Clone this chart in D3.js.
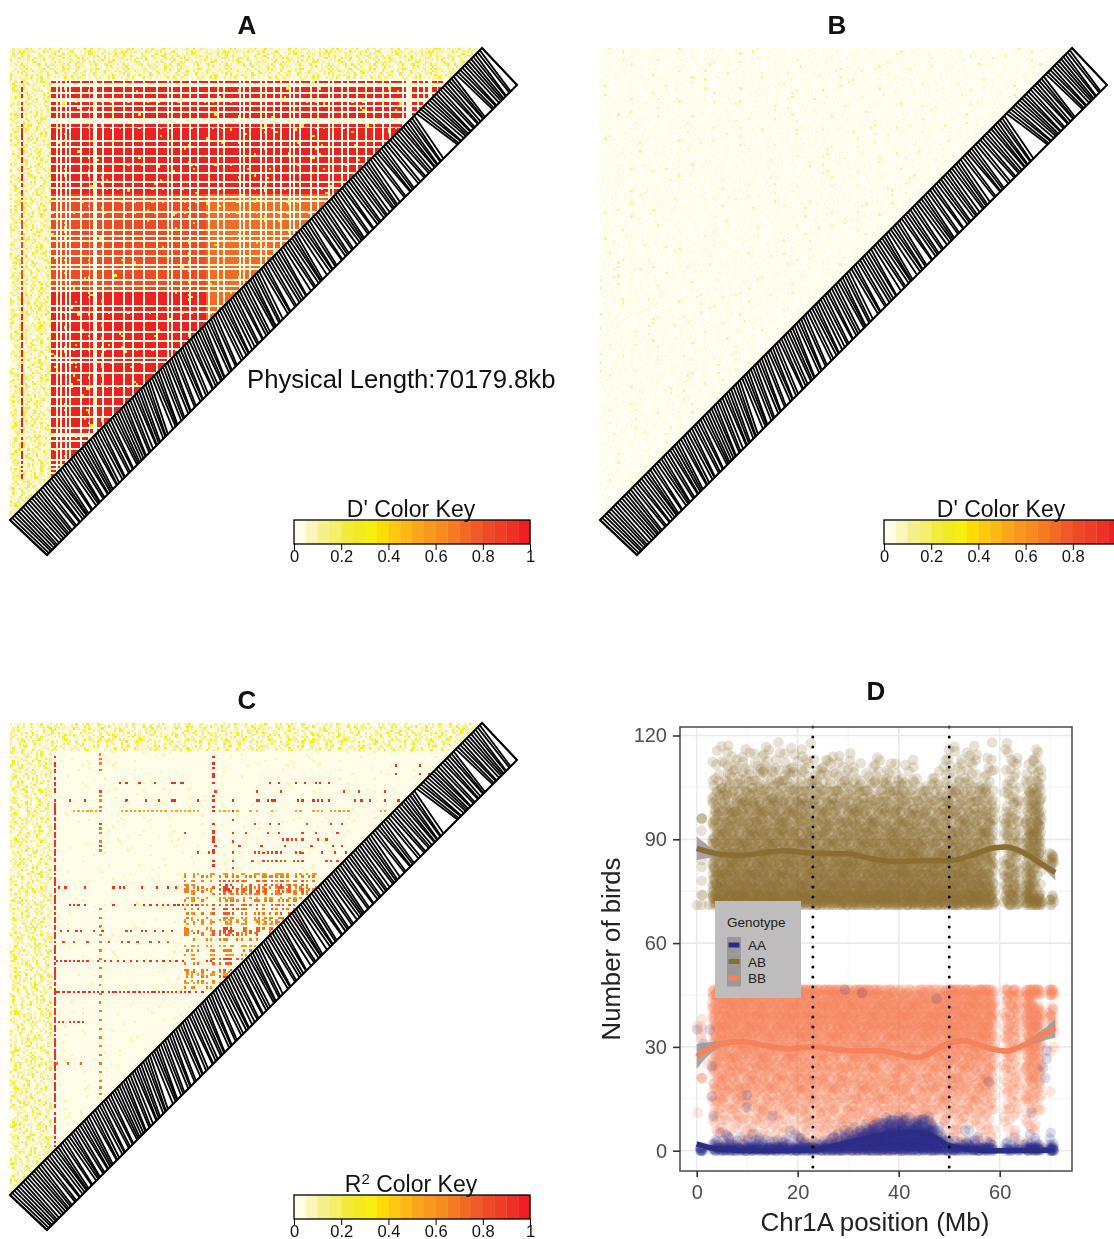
<!DOCTYPE html>
<html>
<head>
<meta charset="utf-8">
<script src="https://cdn.jsdelivr.net/npm/d3@7"></script>
<style>
  html, body { margin: 0; background: #fff; overflow: hidden; }
  svg { display: block; filter: blur(0.4px); font-family: "Liberation Sans", Arial, sans-serif; }
</style>
</head>
<body>
<div id="chart"></div>
<script>
// ---------- LD triangles: 217 markers ----------
var nSnp = 217;
var keyColors = ["#FFFDE8","#FBF5BC","#F6F08C","#F4EE6A","#F2EB3C","#F3EA22","#F8EE0F","#FFDD00","#FFC90E","#FDB913",
                 "#FAA61A","#F8981D","#F68B1F","#F47B20","#F26B25","#F05A28","#EF4A27","#EE3E26","#EE3124","#ED2024"];
var keyTicks = [0, 0.2, 0.4, 0.6, 0.8, 1];

// gap to the next marker in 0.1 Mb, base 36 (m = 2.2 Mb hole around 60 Mb)
var snpGaps = "3323323433 3232525143 3125163215 2513226135 3162416223 3315245132 5313842163 2631627315 3714352317 3162735315 4426153362 1524831725 3341752531 2753142815 3252643226 2616325324 5232472713 2736252341 31414m2314 3223142513 412c231432 23152a";

// panel A: marker in the high D' block or not, read off columns and rows
var highSnps = "0000010000 0000000001 1010101011 1101110100 1101111011 1101110111 1011111011 1101011101 1101110111 1011101101 1111101011 0111101011 1011011101 0110111101 1011110101 1101101110 1110111011 1011011111 0100011011 0100110110 0100000000 0000000";
// strength of D' per row and per column, 9 = 1.0 (blocks of marker index)
var rowStrengthFrom = [0, 105, 128, 150];
var rowStrengthVal  = [9, 8, 8, 9];
var colStrengthFrom = [0, 90];
var colStrengthVal  = [9, 7];

// sample of the speckle in the low LD cells, digit = strength
var speckle = [
"31052704126093140728135002641083172049316025807",
"04271360952148037126040583192067341502716304928",
"20639141078250316094271825013607492103850261374",
"17024853106372094518230647100925361740283159206",
"52310694028175360241709835016237408162905341027",
"08146230571902483651027394106852317049260135782",
"36209715084326017495130628047193520861324072516",
"14072583619024735108246301958274061352907143068",
"60351928140763205174893026415071382906142538107",
"27140365092816473502916047382510694213075826341",
"41896027351240687130524091763208154937026180352",
"03257148206935174028316570249613085274016392741",
"75102639418052367109248351076420931568120743905"];
var speckleValue = [0, 0, 0, 0.06, 0.06, 0.06, 0.12, 0.12, 0.2, 0.32];

// panel C: single rows of high r2: marker, value, columns
var r2Rows = [
[197,0.9,[177,188]],
[193,0.9,[93,177,188,192]],
[189,0.9,[50,53,59,66,74,75,78,79,93,119,123,131,135,140,142,146]],
[185,0.85,[41,94,113,124,153,160,172]],
[181,0.9,[27,34,41,53,62,68,74,75,86,93,102,113,114,118,120,121,132,134,139,141,143,146,158,161,165,172,178]],
[176,0.5,[29,31,33,35,37,39,41,51,53,55,57,59,61,63,65,67,69,71,74,76,78,80,82,84,86,93,96,98,100,102,104,110,113,120,131,133,139,141,143,147,149,151,153,155,170,172]],
[170,0.85,[41,93,112,119,123,136,147,152]],
[166,0.85,[41,80,93,102,108,118,123,134,140,150]],
[163,0.85,[93,125,127,129,131,134,141,145]],
[160,0.85,[41,94,105,115,126,138,148,152]],
[157,0.85,[86,91,93,102,112,114,116,118,120,122,124,131,133,134,143,149,154]],
[153,0.8,[93,102,111,116,118,120,122,124,126,130,132,134,145,147,150]],
[141,0.9,[22,25,34,47,50,52,60,67,72,76]],
[133,0.9,[27,29,31,34,47,57,61,64,67,70,72,75,77,79,83,85]],
[107,0.9,[21,23,25,27,29,31,33,35,40,43,46,49,52,55,58,61,64,67,70,73,76,79,90,92]],
[93,0.9,[21,22,24,26,27,29,31,33,34,36,38,40,42,45,47,48,50,52,54,56,57,59,61,63,65,66,68,70,72,74,76,78,80,82,85,88]],
[79,0.85,[22,24,27,29,31,33]],
[121,0.85,[23,26,30,32,38,42,53,55,60,62,66,70,74]],
[116,0.8,[24,29,35,45,51,54,58,64,68,72]],
[60,0.7,[21,26,32,41]]];
// single columns of high r2: marker, value, rows
var r2ColIdx = [41, 93, 102];
var r2ColVal = [0.65, 0.9, 0.85];
var r2ColRows = [
[202,200,198,195,183,181,178,176,168,166,162,158,131,127,123,119,116,112,108,104,100,96,92,88,84,80,76,72,68,64,60,56,52,49,46],
[201,198,196,192,183,178,176,170,167,164,162,158,153,151],
[176,172,166,162,157,153,150]];
// the dense block: markers and their level, 9 = 1.0
var blockRows = [147,146,144,142,141,140,139,138,136,135,133,131,129,127,126,125,124,122,121,120,119,117,114,112,110,108,106,103,102,101,100,98,97,95];
var blockRowLvl = [5,6,7,8,8,8,7,6,5,6,7,8,7,6,5,6,5,8,8,7,7,6,5,6,5,8,7,7,6,5,8,6,5,7];
var blockCols = [80,81,83,84,86,88,90,92,93,96,98,99,100,101,102,104,106,107,108,110,112,113,114,116,117,119,120,122,123,124,125,127,128,130,131,133,134,136,137,139,140];
var blockColLvl = [6,6,5,6,7,6,6,5,7,7,8,9,9,9,8,7,6,7,6,7,6,7,7,6,7,6,7,6,7,8,7,6,7,6,6,6,7,6,6,6,6];

// ---------- panel D: dots per 3 count band and position bin, base 36 ----------
var binLo = [0.6,3,5,7,9,11,13,15,17,19,21,23,25,27,29,31,33,35,37,39,41,43,45,47,49,51,53,55,57,60.8,65,66.7,69.8];
var binHi = [1.4,5,7,9,11,13,15,17,19,21,23,25,27,29,31,33,35,37,39,41,43,45,47,49,51,53,55,57,59,64,66.7,68.3,70.8];
var abBands = [116,113,110,107,104,101,98,95,92,89,86,83,80,77,74,71];
var abDots = [
"0 1101011111 0000000000 00011101 2010",
"0 1212222121 1211001001 00012212 3120",
"0 2323332332 2322212212 00122312 3230",
"0 3434343433 3332323332 11232322 4240",
"0 5555656555 5554545554 33454544 5460",
"0 6767777677 6666666666 65666566 6670",
"0 8888a8a888 8888886886 66686666 6680",
"0 88a8a8a8a8 8888888888 88688688 a6a0",
"0 8a8aaaaa8a 8a88aa8a8a 88888888 a8a0",
"0 aaaaaaaaaa aa8aaaaaaa a88a8888 aaa0",
"0 aaacacacaa aaaaaaaacc a8a8aa88 8aa0",
"0 acccccccac cacccaccc c cacaaaaaa 6ac1",
"0 cdcdcccccd ccc dccdddd ccccccc 8ca3",
"0 dddddddcdd dddddddddf dcddddd a da3",
"0 fgffgfffff fgffgfggf gffgfdff dgf5",
"1 kjkjkkjkjk kjkjklkkkk kkkjkjkj ljk8"];
var bbBands = [45,42,39,36,33,30,27,24,21,18,15,12,9,6,3,0];
var bbDots = [
"0 dddcdddddd dddcddca88 888ddddd fddd",
"0 dfdfdddddd ddddddddc dcddddd dddd",
"0 dddddddddd ddddcddddd dddddddd cdc8",
"1 dddddcdddd dcdcdcdddd cddddddd ccc6",
"1 cdcdcdcddc cccccccccc cdcdcddc caa3",
"1 aaaaaaaaaa aaaaaaaaaa aaaaaaaa aaa1",
"0 aaaaaaaaa8 a8a8aaaaaa 8aaaaaa8 8a81",
"0 a8a8aa8a88 8888888888 888a8888 8880",
"0 88886886a8 8686868688 68688668 8880",
"0 8888888888 8888888888 68888688 8660",
"0 8686666868 6666868686 66666666 6651",
"0 6656565656 5656666666 56665655 6530",
"0 5353555355 5555655555 55355353 5310",
"0 3333333335 3555555555 33133133 3310",
"0 1313333133 3355555555 31133133 3110",
"0 1111111113 3353335531 11111111 1110"];
var aaBands = [9,8,7,6,5,4,3,2,1,0];
var aaDots = [
"0 0000000000 0000000222 22000000 0000",
"0 0000000000 0000002342 42000000 0000",
"0 0000000000 0000023454 54000000 0000",
"0 0000000000 0000234666 66100000 0000",
"0 1000000100 0002346777 77200100 0001",
"0 0100100010 0023468888 88300010 0100",
"0 1201210120 0134689999 99410110 1011",
"0 2222222222 2346789aaa aa622212 2211",
"1 4444444444 4568899aaa aa744444 3343",
"8 ffffffffff ffffffffff ffffffff ffff"];
// where a dot sits inside its cell
var dotOffX = [0.12,0.71,0.38,0.93,0.05,0.56,0.27,0.84,0.47,0.66,0.18,0.97,0.33,0.6,0.8,0.42,
               0.23,0.9,0.51,0.02,0.75,0.36,0.63,0.15,0.87,0.44,0.08,0.69,0.29,0.54,0.99,0.2];
var dotOffY = [0,0.62,0.22,0,0.85,0.41,0.7,0.15,0,0.93,0.5,0.3,0,0.77,0.58,0.08,
               0.47,0.03,0.88,0.26,0.66,0,0.36,0.98,0.12,0.55,0.81,0,0.19,0.72,0.33,0.6];
// single dots outside the bins
var abExtraX = [1,1,1,1,1,1,1,1,1,1,0.1,2.4];
var abExtraY = [96,96,96,92.5,88,84,82,78,74,71,71,71];
var bbExtraX = [1,1,1,1,1,1,1,0.2,2.2,0.1];
var bbExtraY = [38,35,32,21,21,21,30,11,25,36];
var aaExtraX = [0.1,2.6,1.3,3,3,3.3,9.9,9.9,15,6.3,8.6,16,69.3,69.3,68.6,69,57.8,66.3,54,47.5,32.7,29.4,0.9,0.9,0.9,70.4,70.6];
var aaExtraY = [35,35,31,24.5,15.6,10,16,12.6,10,4,4,3,29,26.6,24,21,20,11,6,44,45.6,46.5,0,0,0,0,0];

var smoothAbX = [0,4.6,8.6,12.5,17.2,23,29.7,35,38.9,45.5,50,54.1,58.7,61.4,64.7,68,71];
var smoothAbY = [87.4,85.7,85.3,86,86.7,86,85.8,84.3,83.6,83.9,83.8,85.2,87.5,87.8,86.1,83.1,80.4];
var smoothAbSe = [3.4,0.8,0.5,0.5,0.5,0.5,0.5,0.5,0.5,0.5,0.5,0.5,0.6,0.6,0.6,0.8,2.2];
var smoothBbX = [0,4.6,9.2,13.2,17.8,23,29.7,36.3,43.6,50,52.8,58.7,61.4,65.4,71];
var smoothBbY = [27.2,30.8,31.5,30.5,29.5,30,28.9,28.9,27,31,31.8,29.3,28.8,31,35.4];
var smoothBbSe = [3.6,1,0.6,0.5,0.5,0.5,0.6,0.6,0.6,0.6,0.6,0.6,0.7,0.8,2.6];
var smoothAaX = [0,4.6,12.5,23,28.4,35,43,46.9,50,54.1,58.7,71];
var smoothAaY = [1.9,0.4,0,0.2,1.8,4,5.4,4,1.4,0.4,0,0.2];
var smoothAaSe = [1,0.5,0.4,0.4,0.4,0.5,0.6,0.5,0.4,0.4,0.4,0.8];
var xTicks = [0, 20, 40, 60];
var xMinor = [10, 30, 50, 70];
var yTicks = [0, 30, 60, 90, 120];
var yMinor = [15, 45, 75, 105];
var cutoffs = [23, 50];
var genotypes = ["AA", "AB", "BB"];
var genoColors = ["#2B2C86", "#8C6D31", "#F5825A"];

// ---------- helpers ----------
var svg = d3.select("#chart").append("svg").attr("width", 1114).attr("height", 1239);
var clean = s => s.replace(/ /g, "").split("");

var high = clean(highSnps).map(Number);
var gaps = clean(snpGaps).map(c => parseInt(c, 36));
var snpPos = [0].concat(Array.from(d3.cumsum(gaps)));

var keyColor = d3.scaleQuantize().domain([0, 1]).range(keyColors);
var rowStrength = d3.scaleThreshold().domain(rowStrengthFrom.slice(1)).range(rowStrengthVal);
var colStrength = d3.scaleThreshold().domain(colStrengthFrom.slice(1)).range(colStrengthVal);

function speck(i, j, shift) {
    var line = speckle[(j * 5 + shift) % speckle.length];
    return +line[(i + j * 19 + (j >> 3) * 13 + shift) % line.length];
}

function valueA(i, j) {
    var d = speck(i, j, 0);
    if (high[i] && high[j]) {
        if (d == 9 && (i + j) % 5 == 0) return 0.3;
        var s = j < 150 ? Math.min(rowStrength(j), colStrength(i)) : rowStrength(j);
        return s == 9 ? 1 : s / 9.6;
    }
    if (i < 19 || j > 202) return speckleValue[d];
    if (d == 9) return 0.12;
    return d == 8 ? 0.06 : 0;
}

// r2 lookups
var r2Cell = new Map();
r2Rows.forEach(r => r[2].forEach(c => r2Cell.set(c + "_" + r[0], r[1])));
r2ColIdx.forEach((c, k) => r2ColRows[k].forEach(j => r2Cell.set(c + "_" + j, r2ColVal[k])));
var blockRowMap = new Map(blockRows.map((d, k) => [d, blockRowLvl[k]]));
var blockColMap = new Map(blockCols.map((d, k) => [d, blockColLvl[k]]));

function valueC(i, j) {
    var d = speck(i, j, 5);
    if (i == 20 && j <= 203 && high[j]) return 0.92;
    var hit = r2Cell.get(i + "_" + j);
    if (hit) return hit;
    if (blockRowMap.has(j) && blockColMap.has(i) && d > 2) {
        return Math.min(blockRowMap.get(j), blockColMap.get(i)) / 9;
    }
    if (i < 19 || j > 203) {
        if (d == 9 || (d == 8 && (i + j) % 2 == 0)) return 0.3;
        return d >= 6 ? 0.1 : (d == 5 ? 0.06 : 0);
    }
    return d == 9 && (i + j) % 2 == 0 ? 0.07 : 0;
}

function paleB(i, j) {
    var d = speck(i, j, 9);
    if (d == 9 && (i + 2 * j) % 4 == 0) return "#FBF2A0";
    return d >= 6 ? "#FFFCE3" : null;
}

function drawTriangle(dx, dy, baseColor, cellColor) {
    var g = svg.append("g").attr("transform", "translate(" + dx + "," + dy + ")");
    var x = d3.scaleBand().domain(d3.range(nSnp)).range([10, 482]);
    var y = d3.scaleBand().domain(d3.range(nSnp).reverse()).range([48, 520]);

    g.append("path").attr("d", "M10,48L482,48L10,520Z").attr("fill", baseColor);

    var cells = [];
    for (var i = 0; i < nSnp; i++) {
        for (var j = i + 1; j < nSnp; j++) {
            var c = cellColor(i, j);
            if (c) cells.push({ i: i, j: j, c: c });
        }
    }
    g.append("g").attr("shape-rendering", "crispEdges")
        .selectAll("rect").data(cells).enter().append("rect")
        .attr("x", d => x(d.i))
        .attr("y", d => y(d.j))
        .attr("width", x.bandwidth() + 0.2)
        .attr("height", y.bandwidth() + 0.2)
        .attr("fill", d => d.c);

    // marker segments from the triangle edge to the position line
    var edgeX = d3.scaleLinear().domain([0, nSnp - 1]).range([10, 482]);
    var edgeY = d3.scaleLinear().domain([0, nSnp - 1]).range([520, 48]);
    var posX = d3.scaleLinear().domain([0, d3.max(snpPos)]).range([47, 517]);
    var posY = d3.scaleLinear().domain([0, d3.max(snpPos)]).range([555, 85]);

    g.append("g").selectAll("line").data(snpPos).enter().append("line")
        .attr("x1", (d, k) => edgeX(k))
        .attr("y1", (d, k) => edgeY(k))
        .attr("x2", d => posX(d))
        .attr("y2", d => posY(d))
        .attr("stroke", "#000")
        .attr("stroke-width", 1.8);

    g.append("path").attr("d", "M10,520L482,48L517,85L47,555Z")
        .attr("fill", "none").attr("stroke", "#000").attr("stroke-width", 2);
}

function drawKey(dx, dy, title, ticks) {
    var g = svg.append("g").attr("transform", "translate(" + dx + "," + dy + ")");
    var kx = d3.scaleLinear().domain([0, 1]).range([294, 530]);
    g.selectAll("rect.bin").data(keyColors).enter().append("rect").attr("class", "bin")
        .attr("x", (d, k) => kx(k / 20))
        .attr("y", 520)
        .attr("width", kx(0.05) - kx(0) + 0.3)
        .attr("height", 24)
        .attr("fill", d => d);
    g.append("rect").attr("x", 294).attr("y", 520).attr("width", 236).attr("height", 24)
        .attr("fill", "none").attr("stroke", "#000").attr("stroke-width", 1.3);
    var axis = g.append("g").attr("transform", "translate(0,544)")
        .call(d3.axisBottom(kx).tickValues(ticks).tickSize(6).tickFormat(d => d));
    axis.select(".domain").remove();
    axis.selectAll("text").attr("y", 6).attr("dy", "0.71em")
        .style("font-size", "16.5px").style("font-family", "inherit").attr("fill", "#111");
    var t = g.append("text").attr("x", 411).attr("y", 517).attr("text-anchor", "middle")
        .style("font-size", "23px").attr("fill", "#111");
    title(t);
}

function panelTitle(s, x, y) {
    svg.append("text").attr("x", x).attr("y", y).attr("text-anchor", "middle")
        .style("font-size", "26px").style("font-weight", "bold").attr("fill", "#111").text(s);
}

// ---------- A, B, C ----------
drawTriangle(0, 0, keyColors[0], (i, j) => { var v = valueA(i, j); return v >= 0.05 ? keyColor(v) : null; });
drawTriangle(590, 0, "#FFFFF6", paleB);
drawTriangle(0, 675, keyColors[0], (i, j) => { var v = valueC(i, j); return v >= 0.05 ? keyColor(v) : null; });

drawKey(0, 0, t => t.text("D' Color Key"), keyTicks);
// the window cuts this key off before its last label
drawKey(590, 0, t => t.text("D' Color Key"), keyTicks.slice(0, 5));
drawKey(0, 675, t => {
    t.append("tspan").text("R");
    t.append("tspan").attr("dy", -8).style("font-size", "15px").text("2");
    t.append("tspan").attr("dy", 8).text(" Color Key");
}, keyTicks);

panelTitle("A", 247, 34);
panelTitle("B", 837, 34);
panelTitle("C", 247, 709);
panelTitle("D", 876, 700);

svg.append("text").attr("x", 247).attr("y", 388)
    .style("font-size", "25.7px").attr("fill", "#111").text("Physical Length:70179.8kb");

// ---------- D ----------
var x = d3.scaleLinear().domain([(680 - 696.7) / 5.05, (1072 - 696.7) / 5.05]).range([680, 1072]);
var y = d3.scaleLinear().domain([(1150.7 - 1171) / 3.46, (1150.7 - 727) / 3.46]).range([1171, 727]);

var grid = svg.append("g");
grid.selectAll("line.xm").data(xMinor).enter().append("line")
    .attr("x1", d => x(d)).attr("x2", d => x(d)).attr("y1", 727).attr("y2", 1171)
    .attr("stroke", "#F2F2F2").attr("stroke-width", 0.9);
grid.selectAll("line.ym").data(yMinor).enter().append("line")
    .attr("y1", d => y(d)).attr("y2", d => y(d)).attr("x1", 680).attr("x2", 1072)
    .attr("stroke", "#F2F2F2").attr("stroke-width", 0.9);
grid.selectAll("line.xg").data(xTicks).enter().append("line")
    .attr("x1", d => x(d)).attr("x2", d => x(d)).attr("y1", 727).attr("y2", 1171)
    .attr("stroke", "#EBEBEB").attr("stroke-width", 1.7);
grid.selectAll("line.yg").data(yTicks).enter().append("line")
    .attr("y1", d => y(d)).attr("y2", d => y(d)).attr("x1", 680).attr("x2", 1072)
    .attr("stroke", "#EBEBEB").attr("stroke-width", 1.7);

function dotsFrom(table, bands, bandHeight, top, extraX, extraY) {
    var pts = [];
    table.forEach((row, r) => {
        clean(row).forEach((c, b) => {
            var n = parseInt(c, 36);
            for (var k = 0; k < n; k++) {
                var o = (k + b * 11 + r * 7) % dotOffX.length;
                pts.push([binLo[b] + dotOffX[o] * (binHi[b] - binLo[b]),
                          Math.min(top, bands[r] + dotOffY[o] * bandHeight)]);
            }
        });
    });
    extraX.forEach((d, k) => pts.push([d, extraY[k]]));
    return pts;
}

svg.append("clipPath").attr("id", "plotClip").append("rect")
    .attr("x", 680).attr("y", 727).attr("width", 392).attr("height", 444);
var plot = svg.append("g").attr("clip-path", "url(#plotClip)");

function drawDots(pts, color, alpha) {
    plot.append("g").selectAll("circle").data(pts).enter().append("circle")
        .attr("cx", d => x(d[0]))
        .attr("cy", d => y(d[1]))
        .attr("r", 5.3)
        .attr("fill", color)
        .attr("fill-opacity", alpha);
}
drawDots(dotsFrom(abDots, abBands, 3, 118, abExtraX, abExtraY), genoColors[1], 0.2);
drawDots(dotsFrom(bbDots, bbBands, 3, 46.6, bbExtraX, bbExtraY), genoColors[2], 0.2);
drawDots(dotsFrom(aaDots, aaBands, 1, 10.5, aaExtraX, aaExtraY), genoColors[0], 0.16);

function drawSmooth(xs, ys, se, color) {
    var pts = xs.map((d, k) => ({ x: d, y: ys[k], se: se[k] }));
    plot.append("path").datum(pts)
        .attr("d", d3.area().x(d => x(d.x)).y0(d => y(d.y - d.se)).y1(d => y(d.y + d.se)).curve(d3.curveMonotoneX))
        .attr("fill", "#999").attr("fill-opacity", 0.85);
    plot.append("path").datum(pts)
        .attr("d", d3.line().x(d => x(d.x)).y(d => y(d.y)).curve(d3.curveMonotoneX))
        .attr("fill", "none").attr("stroke", color).attr("stroke-width", 5.5);
}
drawSmooth(smoothAbX, smoothAbY, smoothAbSe, genoColors[1]);
drawSmooth(smoothBbX, smoothBbY, smoothBbSe, genoColors[2]);
drawSmooth(smoothAaX, smoothAaY, smoothAaSe, genoColors[0]);

svg.append("g").selectAll("line").data(cutoffs).enter().append("line")
    .attr("x1", d => x(d)).attr("x2", d => x(d)).attr("y1", 727).attr("y2", 1171)
    .attr("stroke", "#000").attr("stroke-width", 3)
    .attr("stroke-linecap", "round").attr("stroke-dasharray", "0 10");

// legend
var legend = svg.append("g").attr("transform", "translate(715,901)");
legend.append("rect").attr("width", 86).attr("height", 97).attr("fill", "#BEBCBC");
legend.append("text").attr("x", 12).attr("y", 26).style("font-size", "13.5px").attr("fill", "#222").text("Genotype");
var item = legend.selectAll("g.item").data(genotypes).enter().append("g").attr("class", "item")
    .attr("transform", (d, k) => "translate(12," + (36 + k * 16.5) + ")");
item.append("rect").attr("width", 14).attr("height", 16.5).attr("fill", "#999");
item.append("line").attr("x1", 1.5).attr("x2", 12.5).attr("y1", 8).attr("y2", 8)
    .attr("stroke", (d, k) => genoColors[k]).attr("stroke-width", 5);
item.append("text").attr("x", 21).attr("y", 13).style("font-size", "13.5px").attr("fill", "#222").text(d => d);

// frame and axes
svg.append("rect").attr("x", 680).attr("y", 727).attr("width", 392).attr("height", 444)
    .attr("fill", "none").attr("stroke", "#555").attr("stroke-width", 1.6);
var xAxis = svg.append("g").attr("transform", "translate(0,1171)")
    .call(d3.axisBottom(x).tickValues(xTicks).tickSize(6).tickPadding(8).tickFormat(d => d));
var yAxis = svg.append("g").attr("transform", "translate(680,0)")
    .call(d3.axisLeft(y).tickValues(yTicks).tickSize(7).tickPadding(6).tickFormat(d => d));
[xAxis, yAxis].forEach(a => {
    a.select(".domain").remove();
    a.selectAll("line").attr("stroke", "#333").attr("stroke-width", 1.6);
    a.selectAll("text").style("font-size", "20px").style("font-family", "inherit").attr("fill", "#4D4D4D");
});
svg.append("text").attr("x", 875).attr("y", 1231).attr("text-anchor", "middle")
    .style("font-size", "25.9px").attr("fill", "#222").text("Chr1A position (Mb)");
svg.append("text").attr("transform", "translate(620,949) rotate(-90)").attr("text-anchor", "middle")
    .style("font-size", "25.7px").attr("fill", "#222").text("Number of birds");
</script>
</body>
</html>
